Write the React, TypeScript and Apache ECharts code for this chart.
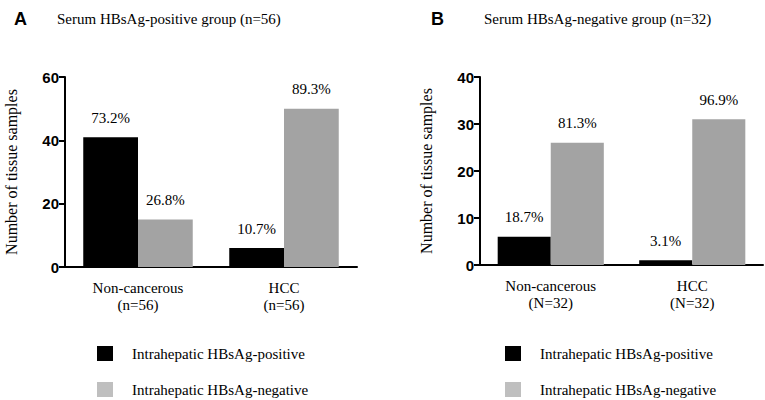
import React, { useEffect, useRef } from "react";
import * as echarts from "echarts";

const categoriesA = ["Non-cancerous\n(n=56)", "HCC\n(n=56)"];
const categoriesB = ["Non-cancerous\n(N=32)", "HCC\n(N=32)"];
const seriesNames = ["Intrahepatic HBsAg-positive", "Intrahepatic HBsAg-negative"];
const posA = [41, 6];
const negA = [15, 50];
const posAPct = ["73.2%", "10.7%"];
const negAPct = ["26.8%", "89.3%"];
const posB = [6, 1];
const negB = [26, 31];
const posBPct = ["18.7%", "3.1%"];
const negBPct = ["81.3%", "96.9%"];
const titleA = "Serum HBsAg-positive group (n=56)";
const titleB = "Serum HBsAg-negative group (n=32)";
const yName = "Number of tissue samples";

const SERIF = "'Liberation Serif', 'Times New Roman', serif";
const SANS = "'Liberation Sans', Arial, sans-serif";

export default function App() {
  const ref = useRef<HTMLDivElement>(null);
  useEffect(() => {
    if (!ref.current) return;
    const chart = echarts.init(ref.current, null, { renderer: "svg" });
    const xAxisCommon = (data: string[], gridIndex: number) => ({
      type: "category" as const,
      gridIndex,
      data,
      axisLine: { lineStyle: { color: "#000", width: 2 } },
      axisTick: { alignWithLabel: true, length: 5, lineStyle: { color: "#000", width: 2 } },
      axisLabel: { color: "#000", fontFamily: SERIF, fontSize: 15, lineHeight: 17, margin: 12 },
    });
    const yAxisCommon = (max: number, interval: number, gridIndex: number) => ({
      type: "value" as const,
      gridIndex,
      min: 0,
      max,
      interval,
      name: yName,
      nameLocation: "middle" as const,
      nameGap: 46,
      nameTextStyle: { color: "#000", fontFamily: SERIF, fontSize: 16 },
      splitLine: { show: false },
      axisLine: { show: true, lineStyle: { color: "#000", width: 2 } },
      axisTick: { show: true, length: 6, lineStyle: { color: "#000", width: 2 } },
      axisLabel: { color: "#000", fontFamily: SANS, fontSize: 15, fontWeight: "bold", margin: 6 },
    });
    const labelFor = (pcts: string[]) => ({
      show: true,
      position: "top" as const,
      distance: 12,
      color: "#000",
      fontFamily: SERIF,
      fontSize: 15,
      formatter: (p: any) => pcts[p.dataIndex],
    });
    const barCommon = {
      type: "bar" as const,
      barGap: "0%",
      barCategoryGap: "25%",
    };
    const legendItem = (left: number, top: number, idx: number, color: string) => ({
      orient: "horizontal" as const,
      left,
      top,
      itemWidth: 16,
      itemHeight: 15,
      icon: "rect",
      selectedMode: false,
      textStyle: { color: "#000", fontFamily: SERIF, fontSize: 15, padding: [0, 0, 0, 14] },
      data: [{ name: seriesNames[idx], itemStyle: { color } }],
    });
    chart.setOption({
      animation: false,
      backgroundColor: "#fff",
      title: [
        { text: "A", left: 9, top: 5, textStyle: { fontFamily: SANS, fontSize: 18, fontWeight: "bold", color: "#000" } },
        { text: titleA, left: 52, top: 6, textStyle: { fontFamily: SERIF, fontSize: 15, fontWeight: "normal", color: "#000" } },
        { text: "B", left: 426, top: 5, textStyle: { fontFamily: SANS, fontSize: 18, fontWeight: "bold", color: "#000" } },
        { text: titleB, left: 479, top: 6, textStyle: { fontFamily: SERIF, fontSize: 15, fontWeight: "normal", color: "#000" } },
      ],
      legend: [
        legendItem(92, 341, 0, "#000"),
        legendItem(92, 377, 1, "#bfbfbf"),
        legendItem(500, 341, 0, "#000"),
        legendItem(500, 377, 1, "#bfbfbf"),
      ],
      grid: [
        { left: 65, right: 408, top: 77, bottom: 133 },
        { left: 480, right: 2, top: 77, bottom: 135 },
      ],
      xAxis: [xAxisCommon(categoriesA, 0), xAxisCommon(categoriesB, 1)],
      yAxis: [yAxisCommon(60, 20, 0), yAxisCommon(40, 10, 1)],
      series: [
        { ...barCommon, name: seriesNames[0], xAxisIndex: 0, yAxisIndex: 0, data: posA, itemStyle: { color: "#000" }, label: labelFor(posAPct) },
        { ...barCommon, name: seriesNames[1], xAxisIndex: 0, yAxisIndex: 0, data: negA, itemStyle: { color: "#a3a3a3" }, label: labelFor(negAPct) },
        { ...barCommon, name: seriesNames[0], xAxisIndex: 1, yAxisIndex: 1, data: posB, itemStyle: { color: "#000" }, label: labelFor(posBPct) },
        { ...barCommon, name: seriesNames[1], xAxisIndex: 1, yAxisIndex: 1, data: negB, itemStyle: { color: "#a3a3a3" }, label: labelFor(negBPct) },
      ],
    });
    return () => chart.dispose();
  }, []);
  return <div ref={ref} style={{ width: 765, height: 400, position: "absolute", left: 0, top: 0 }} />;
}
